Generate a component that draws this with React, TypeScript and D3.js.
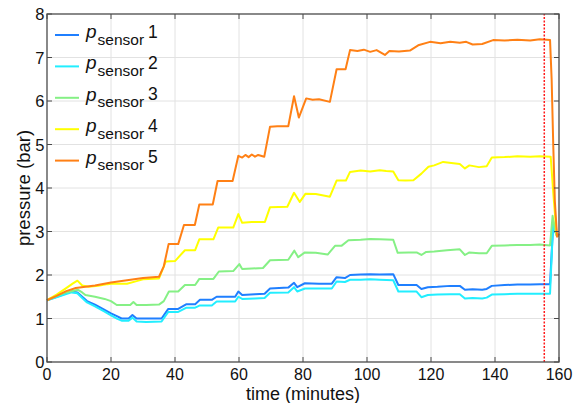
import React from "react";
import * as d3 from "d3";

const xTicks = [0, 20, 40, 60, 80, 100, 120, 140, 160];
const yTicks = [0, 1, 2, 3, 4, 5, 6, 7, 8];
const legendLabels = ["1", "2", "3", "4", "5"];
const seriesColors = ["#1f7fff", "#22eeff", "#85f085", "#ffff00", "#ff8015"];
const markerTime = 155.4;

const s1T = [0, 3, 6, 7.7, 9.5, 11, 12.5, 15, 18, 20, 22, 23.3, 25.5, 26.7, 28, 31, 35.8, 37.9, 41, 43.6, 46.3, 47.8, 51.5, 53, 58.8, 59.8, 61, 65, 68, 69.7, 75.4, 77.2, 78.2, 80.6, 85, 89, 90.5, 93.1, 94.7, 98, 101, 104, 108.2, 109.8, 113, 115.5, 117, 119, 122, 126, 129, 130.6, 133, 136, 137.4, 139, 143, 147, 151, 154, 157.2, 158.2, 158.8, 159.4, 160];
const s1P = [1.42, 1.5, 1.58, 1.62, 1.6, 1.5, 1.4, 1.32, 1.2, 1.12, 1.05, 1.0, 1.0, 1.08, 1.0, 1.0, 1.0, 1.22, 1.22, 1.33, 1.33, 1.43, 1.43, 1.5, 1.5, 1.62, 1.54, 1.56, 1.57, 1.69, 1.71, 1.82, 1.72, 1.81, 1.8, 1.8, 1.95, 1.93, 2.0, 2.01, 2.02, 2.01, 2.02, 1.77, 1.77, 1.77, 1.68, 1.72, 1.73, 1.75, 1.75, 1.66, 1.67, 1.66, 1.68, 1.75, 1.77, 1.78, 1.78, 1.79, 1.79, 3.2, 3.0, 2.9, 2.9];

const s2T = [0, 3, 6, 7.7, 9.5, 11, 12.5, 15, 18, 20, 22, 23.3, 25.5, 26.7, 28, 31, 35.8, 37.9, 41, 43.6, 46.3, 47.8, 51.5, 53, 58.8, 59.8, 61, 65, 68, 69.7, 75.4, 77.2, 78.2, 80.6, 85, 89, 90.5, 93.1, 94.7, 98, 101, 104, 108.2, 109.8, 113, 115.5, 117, 119, 122, 126, 129, 130.6, 133, 136, 137.4, 139, 143, 147, 151, 154, 157.2, 158.2, 158.8, 159.4, 160];
const s2P = [1.42, 1.49, 1.56, 1.6, 1.58, 1.47, 1.37, 1.28, 1.16, 1.07, 0.99, 0.95, 0.95, 1.02, 0.93, 0.92, 0.93, 1.15, 1.15, 1.25, 1.25, 1.3, 1.3, 1.39, 1.39, 1.5, 1.45, 1.46, 1.47, 1.59, 1.6, 1.72, 1.62, 1.69, 1.69, 1.69, 1.85, 1.84, 1.89, 1.89, 1.9, 1.89, 1.88, 1.62, 1.62, 1.62, 1.49, 1.54, 1.55, 1.56, 1.56, 1.46, 1.47, 1.46, 1.48, 1.55, 1.56, 1.57, 1.57, 1.57, 1.57, 3.25, 3.0, 2.9, 2.9];

const s3T = [0, 3, 6, 9.7, 11, 12, 15, 18, 20, 21.8, 26, 27, 28, 31, 35, 36.5, 38.1, 41, 43.1, 46.3, 47.6, 52, 53.7, 58.2, 60.1, 61, 64, 67.5, 69.7, 75.4, 77.3, 78.5, 80.6, 84, 87.7, 90, 92, 94.2, 98, 101, 104, 108.2, 109.6, 113, 115.5, 117, 118.5, 121, 125, 129, 130.6, 132, 135, 137.4, 139, 143, 147, 151, 154, 157.2, 158.0, 158.6, 159.3, 160];
const s3P = [1.42, 1.52, 1.6, 1.66, 1.6, 1.54, 1.5, 1.45, 1.4, 1.31, 1.31, 1.38, 1.31, 1.31, 1.32, 1.4, 1.62, 1.62, 1.77, 1.77, 1.91, 1.91, 2.08, 2.09, 2.25, 2.14, 2.15, 2.16, 2.34, 2.35, 2.56, 2.41, 2.52, 2.51, 2.47, 2.67, 2.67, 2.8, 2.81, 2.83, 2.82, 2.81, 2.51, 2.52, 2.52, 2.46, 2.53, 2.54, 2.57, 2.59, 2.46, 2.52, 2.5, 2.5, 2.67, 2.68, 2.69, 2.69, 2.7, 2.68, 3.36, 3.1, 2.9, 2.92];

const s4T = [0, 3, 6, 8, 9.5, 11, 13, 16, 19, 20, 25, 28, 30, 35, 37.1, 40, 43.1, 46.3, 47.6, 52, 53.5, 58.2, 59.8, 61, 64, 68.1, 69.7, 75.1, 77.2, 79, 80.8, 84, 88.4, 90.5, 93.4, 94.7, 98, 101, 104, 106, 108.2, 109.8, 112, 114.5, 117, 119.2, 121, 123.8, 127, 129, 130.6, 132, 135, 137.4, 139, 143, 147, 151, 154, 157.4, 158.3, 159.3, 160];
const s4P = [1.42, 1.55, 1.7, 1.8, 1.87, 1.76, 1.73, 1.75, 1.79, 1.8, 1.8, 1.86, 1.9, 1.92, 2.31, 2.32, 2.57, 2.57, 2.82, 2.82, 3.09, 3.09, 3.4, 3.2, 3.22, 3.22, 3.56, 3.57, 3.89, 3.68, 3.87, 3.86, 3.8, 4.17, 4.17, 4.37, 4.4, 4.38, 4.41, 4.39, 4.38, 4.18, 4.17, 4.18, 4.33, 4.49, 4.52, 4.6, 4.57, 4.55, 4.45, 4.52, 4.48, 4.5, 4.7, 4.71, 4.73, 4.72, 4.73, 4.72, 3.8, 2.9, 2.9];

const s5T = [0, 3, 6, 9, 12, 15, 20, 25, 30, 33, 35, 36.5, 38, 41, 42.8, 46.2, 47.6, 51.8, 53.3, 58, 59.8, 61, 62, 63, 64, 65, 66, 67.9, 69.7, 72, 75.4, 77.2, 78.7, 81, 83, 85, 88.4, 90.5, 93.3, 94.7, 97, 99, 101, 103, 105.6, 107, 110, 113.4, 116, 119.7, 123, 126, 129, 131, 133, 136, 139.4, 143, 147, 151, 154, 157.2, 157.7, 158.2, 158.7, 159.4, 160];
const s5P = [1.42, 1.52, 1.63, 1.7, 1.73, 1.76, 1.83, 1.88, 1.93, 1.95, 1.96, 2.2, 2.71, 2.71, 3.15, 3.15, 3.62, 3.62, 4.16, 4.16, 4.74, 4.7, 4.76, 4.71, 4.77, 4.72, 4.76, 4.72, 5.41, 5.42, 5.42, 6.11, 5.62, 6.06, 6.03, 6.04, 5.98, 6.73, 6.73, 7.17, 7.15, 7.18, 7.13, 7.17, 7.06, 7.15, 7.14, 7.16, 7.28, 7.36, 7.33, 7.36, 7.34, 7.36, 7.3, 7.31, 7.4, 7.39, 7.41, 7.39, 7.42, 7.4, 6.5, 5.0, 3.7, 2.88, 2.95];

const seriesT = [s1T, s2T, s3T, s4T, s5T];
const seriesP = [s1P, s2P, s3P, s4P, s5P];

const W = 583;
const H = 403;
const M = { left: 47, right: 24, top: 14, bottom: 41 };

export default function App() {
  const x = d3.scaleLinear().domain([0, 160]).range([M.left, W - M.right]);
  const y = d3.scaleLinear().domain([0, 8]).range([H - M.bottom, M.top]);
  const line = d3
    .line<[number, number]>()
    .x((d) => x(d[0]))
    .y((d) => y(d[1]));
  const x0 = M.left;
  const x1 = W - M.right;
  const y0 = H - M.bottom;
  const y1 = M.top;
  const font = "'Liberation Sans', Arial, sans-serif";
  const tickLen = 5;
  const axisColor = "#4a4a4a";

  return (
    <svg
      width={W}
      height={H}
      style={{ position: "absolute", left: 0, top: 0, background: "#fff" }}
      fontFamily={font}
    >
      {/* grid */}
      {xTicks.slice(1, -1).map((t) => (
        <line key={"gx" + t} x1={x(t)} x2={x(t)} y1={y0} y2={y1} stroke="#e2e2e2" strokeWidth={1} />
      ))}
      {yTicks.slice(1, -1).map((t) => (
        <line key={"gy" + t} x1={x0} x2={x1} y1={y(t)} y2={y(t)} stroke="#e2e2e2" strokeWidth={1} />
      ))}

      {/* series */}
      {seriesT.map((ts, i) => (
        <path
          key={"s" + i}
          d={line(ts.map((t, j) => [t, seriesP[i][j]] as [number, number])) || ""}
          fill="none"
          stroke={seriesColors[i]}
          strokeWidth={2}
          strokeLinejoin="round"
        />
      ))}

      {/* red marker */}
      <line
        x1={x(markerTime)}
        x2={x(markerTime)}
        y1={y0}
        y2={y1}
        stroke="#ff1a1a"
        strokeWidth={1.5}
        strokeDasharray="2,1.5"
      />

      {/* axes box */}
      <rect x={x0} y={y1} width={x1 - x0} height={y0 - y1} fill="none" stroke={axisColor} strokeWidth={1.3} />
      {xTicks.map((t) => (
        <g key={"xt" + t}>
          <line x1={x(t)} x2={x(t)} y1={y0} y2={y0 - tickLen} stroke={axisColor} />
          <line x1={x(t)} x2={x(t)} y1={y1} y2={y1 + tickLen} stroke={axisColor} />
          <text x={x(t)} y={379.5} textAnchor="middle" fontSize={16} fill="#111">
            {t}
          </text>
        </g>
      ))}
      {yTicks.map((t) => (
        <g key={"yt" + t}>
          <line x1={x0} x2={x0 + tickLen} y1={y(t)} y2={y(t)} stroke={axisColor} />
          <line x1={x1} x2={x1 - tickLen} y1={y(t)} y2={y(t)} stroke={axisColor} />
          <text x={44.5} y={y(t) + 6} textAnchor="end" fontSize={16.5} fill="#111">
            {t}
          </text>
        </g>
      ))}

      {/* axis labels */}
      <text x={(x0 + x1) / 2} y={399.5} textAnchor="middle" fontSize={18} fill="#111">
        time (minutes)
      </text>
      <text
        transform={`translate(30, ${(y0 + y1) / 2}) rotate(-90)`}
        textAnchor="middle"
        fontSize={18.5}
        fill="#111"
      >
        pressure (bar)
      </text>

      {/* legend */}
      {legendLabels.map((lab, i) => {
        const ly = 35 + i * 31.4;
        return (
          <g key={"lg" + i}>
            <line x1={55} x2={79} y1={ly} y2={ly} stroke={seriesColors[i]} strokeWidth={2} />
            <text x={86} y={ly + 3} fontSize={19} fill="#111">
              <tspan fontStyle="italic">p</tspan>
              <tspan fontSize={15.5} dy={6.5} dx={1}>sensor</tspan>
              <tspan fontSize={17.5} dy={-7} dx={4}>{lab}</tspan>
            </text>
          </g>
        );
      })}
    </svg>
  );
}
